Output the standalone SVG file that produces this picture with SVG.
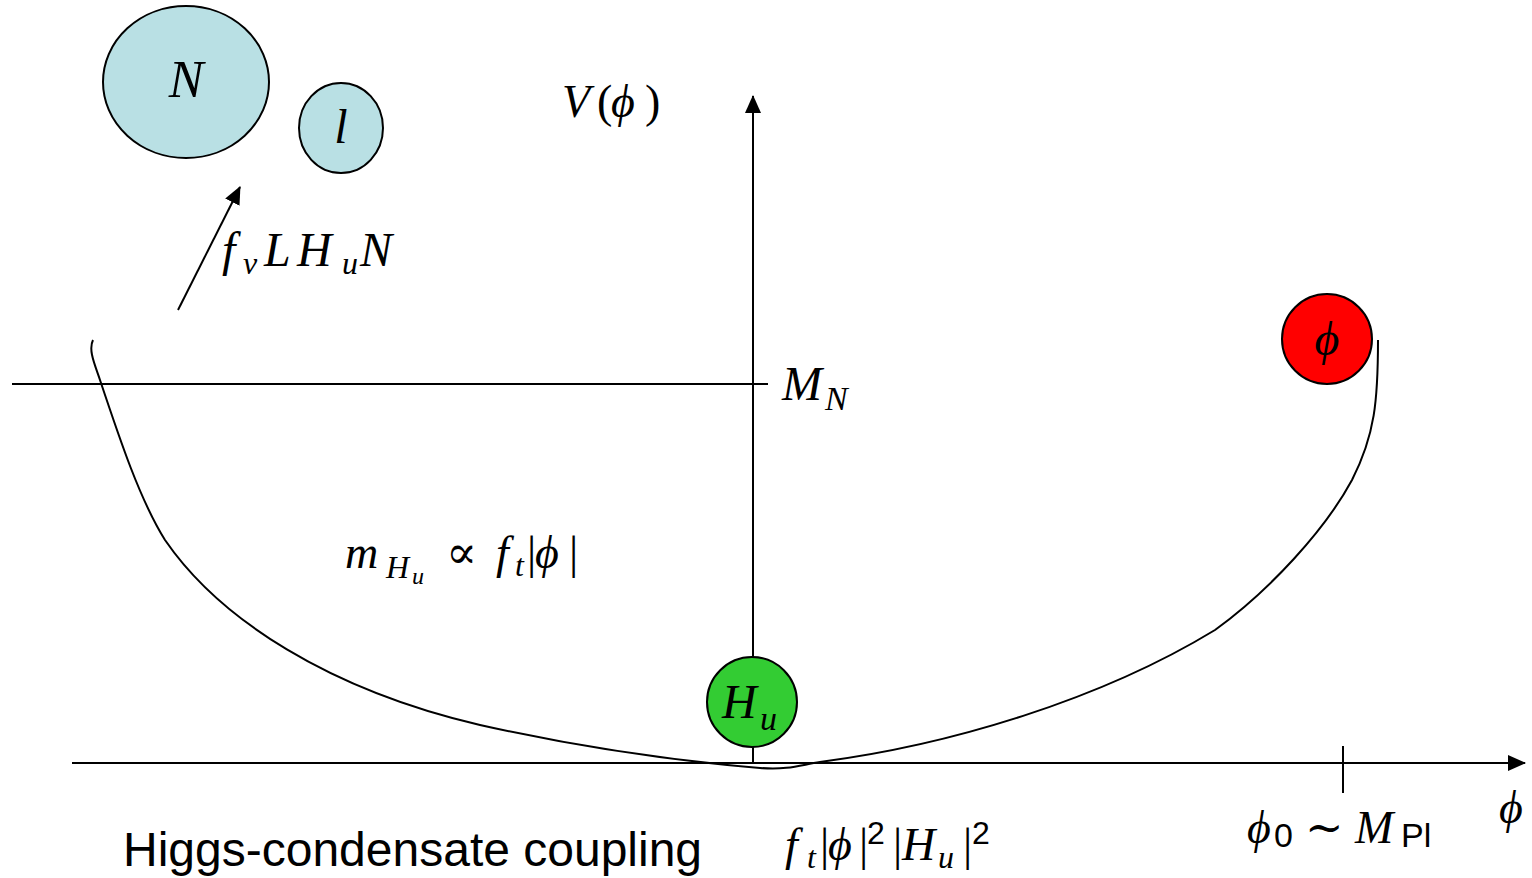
<svg xmlns="http://www.w3.org/2000/svg" width="1532" height="878" viewBox="0 0 1532 878">
<defs>
<style>
.ln{stroke:#000;stroke-width:2;fill:none}
.nd{stroke:#000;stroke-width:2}
.m{font-family:"Liberation Serif","DejaVu Serif",serif;font-style:italic;fill:#000}
.r{font-family:"Liberation Serif","DejaVu Serif",serif;font-style:normal}
.s{font-family:"Liberation Sans",Arial,sans-serif;font-style:normal;fill:#000}
</style>
<marker id="ah2" markerWidth="18" markerHeight="16" refX="17" refY="8" orient="auto" markerUnits="userSpaceOnUse" viewBox="0 0 18 16">
<path d="M0,0 L18,8 L0,16 z" fill="#000"/>
</marker>
</defs>
<rect width="1532" height="878" fill="#fff"/>
<g id="connectors">
<line class="ln" x1="72" y1="763" x2="1525" y2="763" marker-end="url(#ah2)"/>
<line class="ln" x1="753" y1="763" x2="753" y2="96" marker-end="url(#ah2)"/>
<line class="ln" x1="12" y1="384" x2="768" y2="384"/>
<line class="ln" x1="1343" y1="746" x2="1343" y2="793"/>
<line class="ln" x1="178" y1="310" x2="240" y2="187" marker-end="url(#ah2)"/>
<path class="ln" d="M93 340 C88 350,95 365,100 380 C120 440,140 500,165 540 C220 620,330 690,480 725 C600 752,700 763,760 768 C790 770,800 765,820 762 C950 745,1100 700,1215 630 C1270 590,1325 530,1352 480 C1375 435,1378 400,1378 340"/>
</g>
<g id="node-N">
<ellipse class="nd" cx="186" cy="82" rx="83" ry="76" fill="#b9e0e4"/>
<text class="m" x="186" y="97" font-size="52" text-anchor="middle">N</text>
</g>
<g id="node-l">
<ellipse class="nd" cx="341" cy="128" rx="42" ry="45" fill="#b9e0e4"/>
<text class="m" x="341" y="143" font-size="48" text-anchor="middle">l</text>
</g>
<g id="node-Hu">
<circle class="nd" cx="752" cy="702" r="45" fill="#33cc33"/>
<text class="m" font-size="48"><tspan x="722" y="718">H</tspan><tspan x="760" y="730" font-size="34">u</tspan></text>
</g>
<g id="node-phi">
<circle class="nd" cx="1327" cy="339" r="45" fill="#ff0000"/>
<text class="m" x="1327" y="355" font-size="48" text-anchor="middle">ϕ</text>
</g>
<g id="labels">
<text class="m" font-size="48"><tspan x="222" y="266">f</tspan><tspan x="243" y="274" font-size="32">ν</tspan><tspan x="264" y="266">L</tspan><tspan x="297" y="266">H</tspan><tspan x="342" y="274" font-size="32">u</tspan><tspan x="360" y="266">N</tspan></text>
<text class="m" font-size="46"><tspan x="562" y="117">V</tspan><tspan class="r" x="597" y="117">(</tspan><tspan x="611" y="117">ϕ</tspan><tspan class="r" x="645" y="117">)</tspan></text>
<text class="m" font-size="48"><tspan x="782" y="400">M</tspan><tspan x="825" y="410" font-size="34">N</tspan></text>
<text class="m" font-size="46"><tspan x="345" y="568">m</tspan><tspan x="386" y="578" font-size="32">H</tspan><tspan x="412" y="584" font-size="24">u</tspan><tspan class="r" x="446" y="568">∝</tspan><tspan x="496" y="568">f</tspan><tspan x="515" y="576" font-size="32">t</tspan><tspan class="r" x="527" y="568">|</tspan><tspan x="535" y="568">ϕ</tspan><tspan class="r" x="569" y="568">|</tspan></text>
<text class="m" font-size="46"><tspan x="785" y="860">f</tspan><tspan x="807" y="868" font-size="32">t</tspan><tspan class="r" x="820" y="860">|</tspan><tspan x="828" y="860">ϕ</tspan><tspan class="r" x="859" y="860">|</tspan><tspan class="s" x="867" y="844" font-size="32">2</tspan><tspan class="r" x="893" y="860">|</tspan><tspan x="902" y="860">H</tspan><tspan x="938" y="868" font-size="32">u</tspan><tspan class="r" x="963" y="860">|</tspan><tspan class="s" x="972" y="844" font-size="32">2</tspan></text>
<text class="m" font-size="46"><tspan x="1247" y="843">ϕ</tspan><tspan class="s" x="1274" y="847" font-size="34">0</tspan><tspan class="r" x="1305" y="843">∼</tspan><tspan x="1355" y="843">M</tspan><tspan class="s" x="1401" y="847" font-size="34">Pl</tspan></text>
<text class="m" x="1499" y="823" font-size="46">ϕ</text>
<text class="s" x="123" y="866" font-size="48">Higgs-condensate coupling</text>
</g>
</svg>
